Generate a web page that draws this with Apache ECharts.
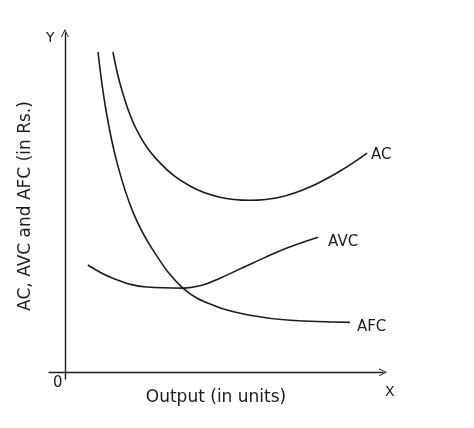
<!DOCTYPE html>
<html>
<head>
<meta charset="utf-8">
<script src="https://cdn.jsdelivr.net/npm/echarts@6/dist/echarts.min.js"></script>
<style>
  html, body { margin: 0; padding: 0; background: #fff; }
  #chart { width: 474px; height: 428px; }
</style>
</head>
<body>
<div id="chart"></div>
<script>
  // curves, [output, cost]
  const acPoints = [
    [1.51, 9.44], [1.79, 8.32], [2.26, 7.14], [2.99, 6.17], [3.93, 5.49],
    [4.87, 5.16], [5.82, 5.07], [6.76, 5.16], [7.7, 5.46], [8.65, 5.93], [9.5, 6.46]
  ];
  const avcPoints = [
    [0.72, 3.16], [1.51, 2.77], [2.58, 2.51], [3.71, 2.48], [4.34, 2.57],
    [4.87, 2.77], [5.91, 3.22], [6.98, 3.66], [7.96, 3.98]
  ];
  const afcPoints = [
    [1.04, 9.44], [1.29, 7.73], [1.64, 6.17], [2.14, 4.72], [2.77, 3.6],
    [3.71, 2.48], [4.72, 1.95], [5.82, 1.68], [7.08, 1.53], [8.96, 1.47]
  ];
  const seriesNames = ["AC", "AVC", "AFC"];
  const xTitle = "Output (in units)";
  const yTitle = "AC, AVC and AFC (in Rs.)";

  const ink = "#1c1c1c";
  const font = "DejaVu Sans";
  const chevron = "path://M0,10 L5,0 L10,10 L8.8,10 L5,2.4 L1.2,10 Z";

  function curve(name, data, labelOffset) {
    return {
      name: name,
      type: "line",
      data: data,
      smooth: 0.4,
      showSymbol: false,
      lineStyle: { color: ink, width: 1.6 },
      endLabel: {
        show: true,
        formatter: name,
        color: ink,
        fontFamily: font,
        fontSize: 15,
        distance: labelOffset[0],
        offset: [0, labelOffset[1]]
      },
      emphasis: { disabled: true }
    };
  }

  const chart = echarts.init(document.getElementById("chart"), null, { renderer: "canvas" });
  chart.setOption({
    animation: false,
    backgroundColor: "#fff",
    grid: { left: 49, right: 91, top: 33, bottom: 49 },
    xAxis: {
      type: "value",
      min: -0.5,
      max: 10,
      splitLine: { show: false },
      axisTick: { show: false },
      axisLabel: { show: false },
      axisLine: {
        onZero: true,
        lineStyle: { color: ink, width: 1.4 },
        symbol: ["none", chevron],
        symbolSize: [9, 8]
      },
      name: xTitle,
      nameLocation: "middle",
      nameGap: 10,
      nameTextStyle: { color: ink, fontFamily: font, fontSize: 17, verticalAlign: "top" }
    },
    yAxis: {
      type: "value",
      min: -0.2,
      max: 10,
      splitLine: { show: false },
      axisTick: { show: false },
      axisLabel: { show: false },
      axisLine: {
        onZero: true,
        lineStyle: { color: ink, width: 1.4 },
        symbol: ["none", chevron],
        symbolSize: [9, 8]
      },
      name: yTitle,
      nameLocation: "middle",
      nameGap: 15,
      nameTextStyle: { color: ink, fontFamily: font, fontSize: 17 }
    },
    graphic: [
      { type: "text", left: 53, top: 376, style: { text: "0", fill: ink, font: "15px " + font } },
      { type: "text", left: 385, top: 385, style: { text: "X", fill: ink, font: "14px " + font } },
      { type: "text", left: 46, top: 31, style: { text: "Y", fill: ink, font: "14px " + font } }
    ],
    series: [
      curve(seriesNames[0], acPoints, [4, 2]),
      curve(seriesNames[1], avcPoints, [10, 5]),
      curve(seriesNames[2], afcPoints, [7, 5])
    ]
  });
</script>
</body>
</html>
